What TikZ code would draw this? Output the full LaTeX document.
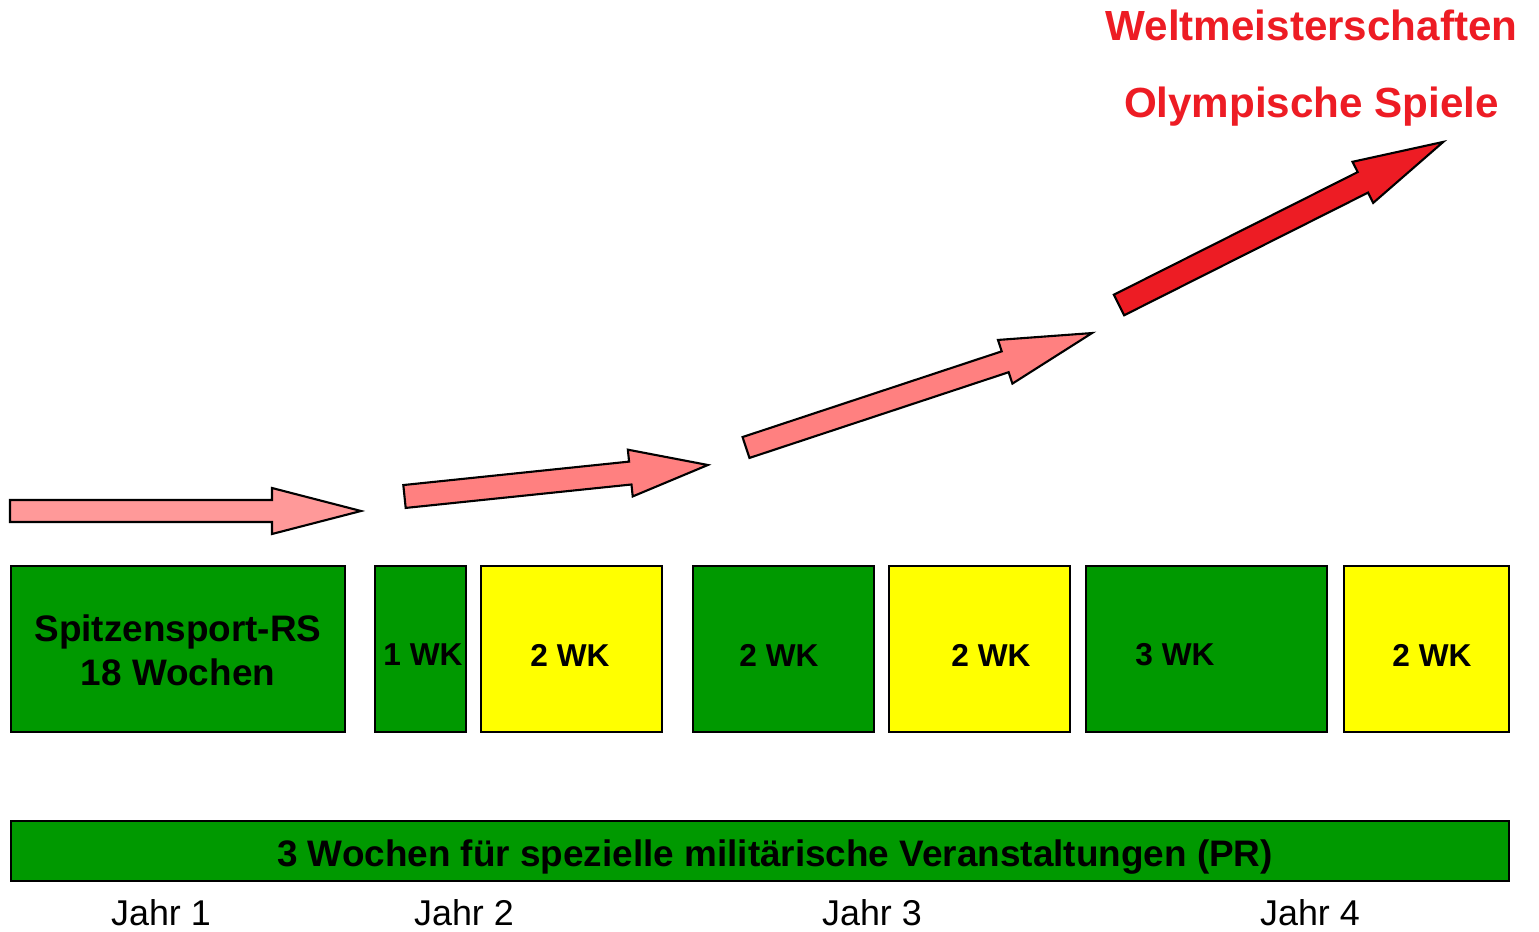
\documentclass[tikz,border=0pt]{standalone}
\usepackage{fontspec}
\setmainfont{Liberation Sans}
\definecolor{wkgreen}{RGB}{0,153,0}
\definecolor{wkyellow}{RGB}{255,255,0}
\definecolor{arrowlight}{RGB}{255,153,153}
\definecolor{arrowpink}{RGB}{255,128,128}
\definecolor{arrowred}{RGB}{237,28,36}

\begin{document}
\begin{tikzpicture}[x=0.02cm, y=-0.02cm,
  box/.style={draw, line width=1.4pt, anchor=north west, inner sep=0pt, minimum height=3.32cm},
  wk/.style={font=\bfseries\fontsize{18}{21}\selectfont},
  jahr/.style={anchor=base, inner sep=0.5pt, font=\fontsize{20.4}{24}\selectfont},
  goal/.style={anchor=base, text=arrowred, font=\bfseries\fontsize{24}{28}\selectfont},
  bigarrow/.style={draw, line width=1.2pt, line join=miter}]
  \useasboundingbox (0,0) rectangle (1539,932);

  \draw[bigarrow, fill=arrowlight, shift={(10,511)}]
    (0,-11) -- (262,-11) -- (262,-23) -- (351,0) -- (262,23) -- (262,11) -- (0,11) -- cycle;
  \draw[bigarrow, fill=arrowpink, shift={(404.5,496.5)}, rotate=5.93]
    (0,-11.5) -- (227,-11.5) -- (227,-23.5) -- (305,0) -- (227,23.5) -- (227,11.5) -- (0,11.5) -- cycle;
  \draw[bigarrow, fill=arrowpink, shift={(746,447.5)}, rotate=18.3]
    (0,-11) -- (273,-11) -- (273,-23) -- (364.5,0) -- (273,23) -- (273,11) -- (0,11) -- cycle;
  \draw[bigarrow, fill=arrowred, shift={(1119,305)}, rotate=26.7]
    (0,-11.5) -- (273,-11.5) -- (273,-23) -- (363,0) -- (273,23) -- (273,11.5) -- (0,11.5) -- cycle;

  \node[goal] (wm) at (1311.5,41) {Weltmeisterschaften};
  \node[goal] (os) at (1311.5,118) {Olympische Spiele};

  \node[box, fill=wkgreen, minimum width=6.68cm] (b1) at (10,565) {};
  \node[box, fill=wkgreen, minimum width=1.82cm] (b2) at (374,565) {};
  \node[box, fill=wkyellow, minimum width=3.62cm] (b3) at (480,565) {};
  \node[box, fill=wkgreen, minimum width=3.62cm] (b4) at (692,565) {};
  \node[box, fill=wkyellow, minimum width=3.62cm] (b5) at (888,565) {};
  \node[box, fill=wkgreen, minimum width=4.82cm] (b6) at (1085,565) {};
  \node[box, fill=wkyellow, minimum width=3.30cm] (b7) at (1343,565) {};

  \node[align=center, font=\bfseries\fontsize{21}{25}\selectfont] (rs) at (178,650) {Spitzensport-RS\\18 Wochen};
  \node[wk] (wk2) at (423,655) {1 WK};
  \node[wk] (wk3) at (570,655) {2 WK};
  \node[wk] (wk4) at (779,655) {2 WK};
  \node[wk] (wk5) at (991,655) {2 WK};
  \node[wk] (wk6) at (1175,655) {3 WK};
  \node[wk] (wk7) at (1432,655) {2 WK};

  \node[box, fill=wkgreen, minimum width=29.96cm, minimum height=1.2cm] (bar) at (10,820) {};
  \node[anchor=base, font=\bfseries\fontsize{21}{25}\selectfont] (pr) at (775,866)
    {3 Wochen für spezielle militärische Veranstaltungen (PR)};

  \node[jahr] (j1) at (161,925) {Jahr 1};
  \node[jahr] (j2) at (464,925) {Jahr 2};
  \node[jahr] (j3) at (872,925) {Jahr 3};
  \node[jahr] (j4) at (1310,925) {Jahr 4};
\end{tikzpicture}
\end{document}
